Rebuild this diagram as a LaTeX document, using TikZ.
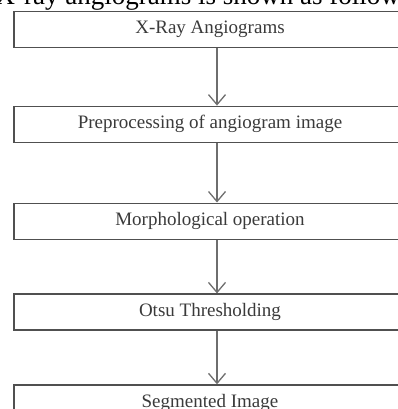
\documentclass[tikz,border=0pt]{standalone}
\usepackage{fontspec}
\setmainfont{Liberation Serif}
\usetikzlibrary{arrows.meta, positioning}
\definecolor{flowLine}{HTML}{505050}
\definecolor{flowArrow}{HTML}{6E6E6E}
\definecolor{flowText}{HTML}{3A3A3A}

\begin{document}
\begin{tikzpicture}[
    node distance=57pt,
    stepbox/.style={rectangle, draw=flowLine, line width=1.2pt,
                 minimum width=392pt, minimum height=36pt, inner sep=0pt,
                 font=\fontsize{19}{22}\selectfont\color{flowText}},
    flow/.style={draw=flowArrow, line width=1.3pt,
                 -{Straight Barb[length=10pt, width=17pt, line width=1.3pt]}},
  ]
    \useasboundingbox (0,0) rectangle (398pt,-409pt);
    \clip (0,0) rectangle (398pt,-409pt);

    % text line of the page above the chart
    \node[anchor=base west, inner sep=0pt, font=\fontsize{27}{32}\selectfont]
      (intro) at (-4.5pt,-5pt) {X-ray angiograms is shown as follows:};

    \node[stepbox] (s0) at (210pt,-29.7pt) {X-Ray Angiograms};
    \node[stepbox, below=57.3pt of s0] (s1) {Preprocessing of angiogram image};
    \node[stepbox, below=59.7pt of s1] (s2) {Morphological operation};
    \node[stepbox, below=53.7pt of s2] (s3) {Otsu Thresholding};
    \node[stepbox, below=53.7pt of s3] (s4) {Segmented Image};

    \draw[flow] ([xshift=7pt]s0.south) -- ([xshift=7pt]s1.north);
    \draw[flow] ([xshift=7pt]s1.south) -- ([xshift=7pt]s2.north);
    \draw[flow] ([xshift=7pt]s2.south) -- ([xshift=7pt]s3.north);
    \draw[flow] ([xshift=7pt]s3.south) -- ([xshift=7pt]s4.north);
  \end{tikzpicture}
\end{document}
